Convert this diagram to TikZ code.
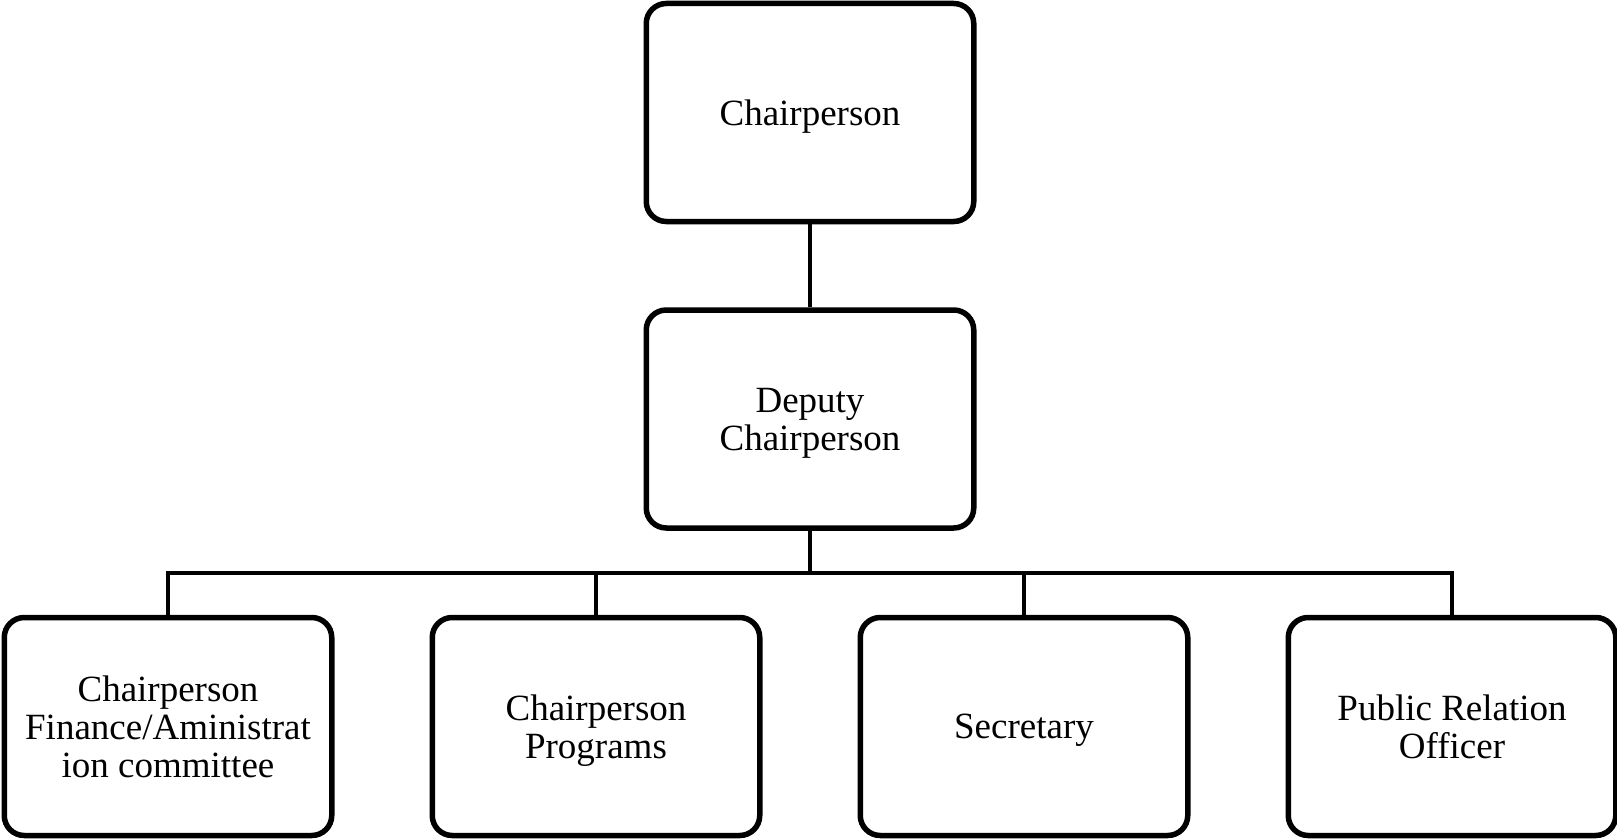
\documentclass[tikz,border=0pt]{standalone}
\usepackage{fontspec}
\setmainfont{Liberation Serif}
\usetikzlibrary{calc}

\begin{document}
\begin{tikzpicture}[x=1pt,y=-1pt,
    box/.style={draw, line width=5.5pt, rounded corners=20pt,
      minimum width=327.5pt, minimum height=218pt, inner sep=0pt,
      text depth=0pt, align=center, font=\fontsize{37}{38}\selectfont},
    link/.style={line width=4.5pt}]
    \def\cx{810}\def\dx{428}
    \def\busy{573}
    \useasboundingbox (0,0) rectangle (1617,840);
    % Draw boxes
    \node[box] (chair) at (\cx,112.5) {Chairperson};
    \node[box] (deputy) at (\cx,419) {Deputy\\Chairperson};
    \node[box] (finance) at (168,726.5) {Chairperson\\Finance/Aministrat\\ion committee};
    \node[box] (programs) at (168+\dx,726.5) {Chairperson\\Programs};
    \node[box] (secretary) at (168+2*\dx,726.5) {Secretary};
    \node[box] (officer) at (168+3*\dx,726.5) {Public Relation\\Officer};
    % Draw links
    \coordinate (bus) at (\cx,\busy);
    \draw[link] (chair) -- (deputy);
    \draw[link] (deputy) -- (bus);
    \foreach \n in {finance,programs,secretary,officer} {
      \draw[link] (bus) -| (\n);
    }
\end{tikzpicture}
\end{document}
